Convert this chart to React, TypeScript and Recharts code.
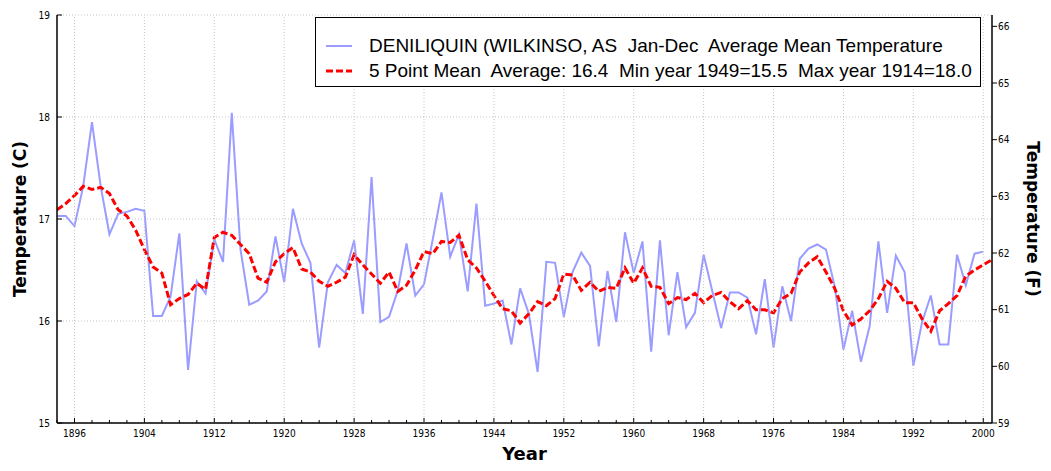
import React from "react";
import { CartesianGrid, Label, Legend, Line, LineChart, XAxis, YAxis } from "recharts";

// Deniliquin annual mean temperature, one value per year from 1894
const FIRST_YEAR = 1894;

const meanTemp = [
  17.03, 17.03, 16.93, 17.32, 17.95, 17.32, 16.85, 17.05, 17.07, 17.1,
  17.08, 16.05, 16.05, 16.24, 16.86, 15.52, 16.39, 16.27, 16.8, 16.58,
  18.04, 16.7, 16.16, 16.2, 16.29, 16.83, 16.38, 17.1, 16.76, 16.57,
  15.74, 16.38, 16.55, 16.47, 16.79, 16.07, 17.41, 15.99, 16.04, 16.3,
  16.76, 16.25, 16.36, 16.8, 17.26, 16.63, 16.85, 16.29, 17.15, 16.15,
  16.17, 16.2, 15.77, 16.32, 16.07, 15.5, 16.58, 16.57, 16.04, 16.48,
  16.67, 16.54, 15.75, 16.49, 15.99, 16.87, 16.47, 16.78, 15.7, 16.79,
  15.86, 16.48, 15.94, 16.08, 16.65, 16.29, 15.93, 16.28, 16.28, 16.23,
  15.87, 16.41, 15.74, 16.34, 16.0, 16.61, 16.71, 16.75, 16.7, 16.34,
  15.72, 16.1, 15.6, 15.95, 16.78, 16.08, 16.64, 16.48, 15.56, 15.99,
  16.25, 15.77, 15.77, 16.65, 16.35, 16.66, 16.68,
];

// 5 point running mean, runs one year further than the annual series
const fivePointMean = [
  17.09, 17.15, 17.23, 17.32, 17.29, 17.31, 17.25, 17.09, 17.03, 16.89,
  16.7, 16.53, 16.47, 16.16, 16.22, 16.26, 16.37, 16.31, 16.82, 16.87,
  16.84, 16.75, 16.66, 16.42, 16.38, 16.58, 16.66, 16.72, 16.51, 16.48,
  16.39, 16.34, 16.38, 16.43, 16.65, 16.55, 16.46, 16.37, 16.48, 16.29,
  16.35, 16.5, 16.68, 16.66, 16.78, 16.77, 16.84, 16.6, 16.52, 16.39,
  16.25, 16.12, 16.1, 15.98, 16.07, 16.19, 16.15, 16.22, 16.46, 16.45,
  16.3, 16.38, 16.29, 16.33, 16.32, 16.52, 16.37, 16.52, 16.34, 16.33,
  16.17, 16.23, 16.21, 16.27, 16.18, 16.25, 16.28, 16.19, 16.12, 16.2,
  16.11, 16.11, 16.08, 16.22, 16.27, 16.48, 16.57, 16.63, 16.48, 16.32,
  16.1, 15.96, 16.02, 16.1, 16.22, 16.39, 16.32, 16.18, 16.18, 16.02,
  15.9, 16.1, 16.17, 16.25, 16.44, 16.5, 16.55, 16.6,
];

const majorYears = [1896, 1904, 1912, 1920, 1928, 1936, 1944, 1952, 1960, 1968, 1976, 1984, 1992, 2000];
const celsiusTicks = [15, 16, 17, 18, 19];
const fahrenheitTicks = [59, 60, 61, 62, 63, 64, 65, 66];

const seriesNames = {
  annual: "DENILIQUIN (WILKINSO, AS  Jan-Dec  Average Mean Temperature",
  mean: "5 Point Mean  Average: 16.4  Min year 1949=15.5  Max year 1914=18.0",
};
const legendOrder = ["temp", "mean"];

const data = fivePointMean.map((m, i) => ({
  year: FIRST_YEAR + i,
  temp: i < meanTemp.length ? meanTemp[i] : null,
  mean: m,
}));

const minorYears = data.map((d) => d.year).filter((y) => y % 2 === 0);

const W = 1051;
const H = 471;
const PLOT_TOP = 15;
const PLOT_BOTTOM = 423;
const FONT = "Tahoma, 'DejaVu Sans Condensed', 'DejaVu Sans', sans-serif";
const TITLE_FONT = "'DejaVu Sans', sans-serif";
const LEGEND_FONT = "'Liberation Sans', Arial, sans-serif";

function YearTick(props: any) {
  const { x, y, payload } = props;
  const major = majorYears.includes(payload.value);
  return (
    <g>
      {major && (
        <line x1={x} x2={x} y1={y} y2={PLOT_TOP} stroke="#c4c4c4" strokeDasharray="1 2" />
      )}
      <line x1={x} x2={x} y1={y} y2={y - (major ? 5 : 3)} stroke="#000" />
      {major && (
        <text x={x} y={y + 14} textAnchor="middle" fontSize={10} fontFamily={FONT} fill="#000">
          {payload.value}
        </text>
      )}
    </g>
  );
}

function LegendBox(props: any) {
  const items = [...(props.payload || [])].sort(
    (a: any, b: any) => legendOrder.indexOf(a.dataKey) - legendOrder.indexOf(b.dataKey)
  );
  return (
    <div
      style={{
        width: 664,
        height: 68,
        border: "1px solid #000",
        background: "#fff",
        fontFamily: LEGEND_FONT,
        fontSize: 19,
        color: "#000",
        boxSizing: "content-box",
      }}
    >
      {items.map((it: any, i: number) => (
        <div key={i} style={{ display: "flex", alignItems: "center", height: 25, marginTop: i === 0 ? 15 : 0 }}>
          <svg width={53} height={10} style={{ flex: "none" }}>
            <line
              x1={10}
              x2={36}
              y1={5}
              y2={5}
              stroke={it.color}
              strokeWidth={it.payload?.strokeWidth}
              strokeDasharray={it.payload?.strokeDasharray}
            />
          </svg>
          <span style={{ whiteSpace: "pre" }}>{it.value}</span>
        </div>
      ))}
    </div>
  );
}

export default function App() {
  return (
    <div style={{ position: "absolute", left: 0, top: 0, width: W, height: H, background: "#fff" }}>
      <LineChart width={W} height={H} data={data} margin={{ top: PLOT_TOP, right: 0, left: 0, bottom: 0 }}>
        <CartesianGrid vertical={false} yAxisId="c" stroke="#c4c4c4" strokeDasharray="1 2" />
        <XAxis
          dataKey="year"
          type="number"
          domain={[1894, 2001]}
          ticks={minorYears}
          interval={0}
          tick={<YearTick />}
          tickLine={false}
          tickSize={0}
          tickMargin={0}
          height={H - PLOT_BOTTOM}
          axisLine={{ stroke: "#000", strokeWidth: 1.5 }}
          allowDataOverflow
        >
          <Label
            content={(p: any) => {
              const vb = p.viewBox;
              return (
                <text
                  x={vb.x + vb.width / 2}
                  y={vb.y + 37}
                  textAnchor="middle"
                  fontFamily={TITLE_FONT}
                  fontWeight="bold"
                  fontSize={18}
                  fill="#000"
                >
                  Year
                </text>
              );
            }}
          />
        </XAxis>
        <YAxis
          yAxisId="c"
          orientation="left"
          width={57}
          domain={[15, 19]}
          ticks={celsiusTicks}
          tickSize={-5}
          tickMargin={12}
          tick={{ fontSize: 10, fontFamily: FONT, fill: "#000" }}
          tickLine={{ stroke: "#000" }}
          axisLine={{ stroke: "#000", strokeWidth: 1.5 }}
          allowDataOverflow
        >
          <Label
            content={() => {
              const cx = 20;
              const cy = (PLOT_TOP + PLOT_BOTTOM) / 2;
              return (
                <text
                  x={cx}
                  y={cy}
                  transform={`rotate(-90 ${cx} ${cy})`}
                  textAnchor="middle"
                  dominantBaseline="central"
                  fontFamily={TITLE_FONT}
                  fontWeight="bold"
                  fontSize={17}
                  fill="#000"
                >
                  Temperature (C)
                </text>
              );
            }}
          />
        </YAxis>
        <YAxis
          yAxisId="f"
          orientation="right"
          width={W - 992}
          domain={[59, 66.2]}
          ticks={fahrenheitTicks}
          tickSize={5}
          tickMargin={1}
          tick={{ fontSize: 10, fontFamily: FONT, fill: "#000" }}
          tickLine={{ stroke: "#000" }}
          axisLine={{ stroke: "#000", strokeWidth: 1.5 }}
          allowDataOverflow
        >
          <Label
            content={() => {
              const cx = 1033;
              const cy = (PLOT_TOP + PLOT_BOTTOM) / 2;
              return (
                <text
                  x={cx}
                  y={cy}
                  transform={`rotate(90 ${cx} ${cy})`}
                  textAnchor="middle"
                  dominantBaseline="central"
                  fontFamily={TITLE_FONT}
                  fontWeight="bold"
                  fontSize={17}
                  fill="#000"
                >
                  Temperature (F)
                </text>
              );
            }}
          />
        </YAxis>
        <Legend
          layout="horizontal"
          verticalAlign="middle"
          align="center"
          wrapperStyle={{ left: 315, top: 17, width: "auto" }}
          content={<LegendBox />}
        />
        <Line
          yAxisId="c"
          dataKey="temp"
          name={seriesNames.annual}
          stroke="#9a9cff"
          strokeWidth={2}
          dot={false}
          isAnimationActive={false}
        />
        <Line
          yAxisId="c"
          dataKey="mean"
          name={seriesNames.mean}
          stroke="#ff0000"
          strokeWidth={3}
          strokeDasharray="7 3"
          dot={false}
          isAnimationActive={false}
        />
      </LineChart>
    </div>
  );
}
